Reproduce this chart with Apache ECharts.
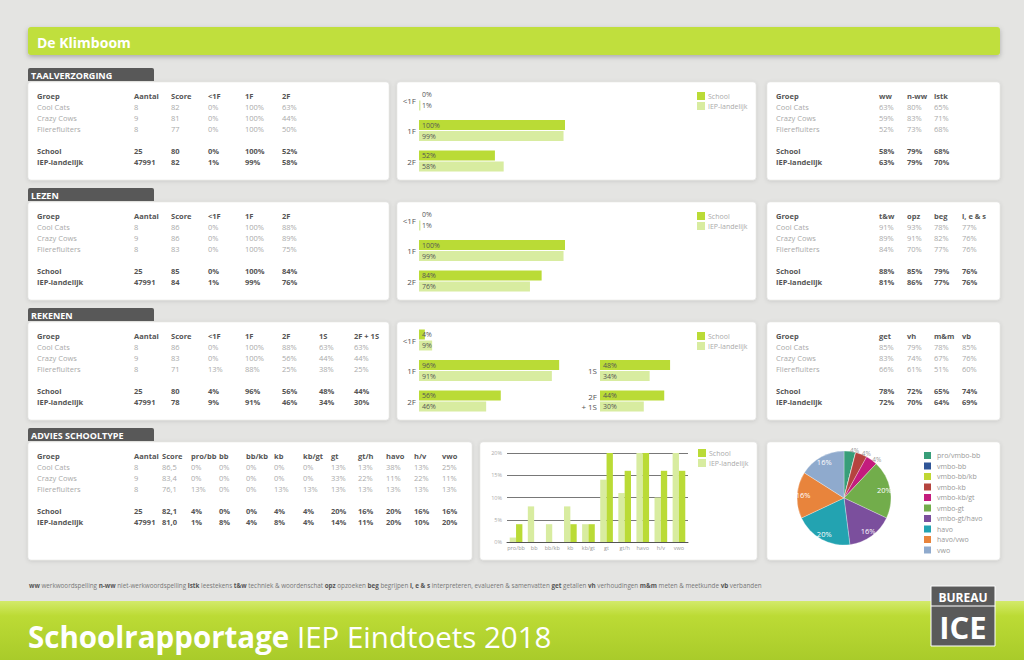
<!DOCTYPE html>
<html><head><meta charset="utf-8">
<script src="https://cdn.jsdelivr.net/npm/echarts@6/dist/echarts.min.js"></script>
<style>html,body{margin:0;padding:0;background:#e4e4e2}#c{width:1024px;height:660px}</style>
</head><body><div id="c"></div>
<script>
// ---------- DATA ----------
const schoolNaam = 'De Klimboom';
const groepen = ['Cool Cats', 'Crazy Cows', 'Flierefluiters'];
const totaalNamen = ['School', 'IEP-landelijk'];

// Taalverzorging
const taalNiveaus = ['<1F', '1F', '2F'];
const taalGroepRijen = [[8, 82, 0, 100, 63], [9, 81, 0, 100, 44], [8, 77, 0, 100, 50]]; // aantal, score, <1F, 1F, 2F
const taalSchoolAS = [25, 80];
const taalIEPAS = [47991, 82];
const taalSchool = [0, 100, 52];
const taalIEP = [1, 99, 58];
const taalSubKop = ['ww', 'n-ww', 'lstk'];
const taalSub = [[63, 80, 65], [59, 83, 71], [52, 73, 68], [58, 79, 68], [63, 79, 70]];

// Lezen
const lezenNiveaus = ['<1F', '1F', '2F'];
const lezenGroepRijen = [[8, 86, 0, 100, 88], [9, 86, 0, 100, 89], [8, 83, 0, 100, 75]];
const lezenSchoolAS = [25, 85];
const lezenIEPAS = [47991, 84];
const lezenSchool = [0, 100, 84];
const lezenIEP = [1, 99, 76];
const lezenSubKop = ['t&w', 'opz', 'beg', 'i, e & s'];
const lezenSub = [[91, 93, 78, 77], [89, 91, 82, 76], [84, 70, 77, 76], [88, 85, 79, 76], [81, 86, 77, 76]];

// Rekenen
const rekenNiveausA = ['<1F', '1F', '2F'];
const rekenNiveausB = ['1S', '2F\n+ 1S'];
const rekenKop = ['<1F', '1F', '2F', '1S', '2F + 1S'];
const rekenGroepRijen = [[8, 86, 0, 100, 88, 63, 63], [9, 83, 0, 100, 56, 44, 44], [8, 71, 13, 88, 25, 38, 25]];
const rekenSchoolAS = [25, 80];
const rekenIEPAS = [47991, 78];
const rekenSchool = [4, 96, 56, 48, 44];
const rekenIEP = [9, 91, 46, 34, 30];
const rekenSubKop = ['get', 'vh', 'm&m', 'vb'];
const rekenSub = [[85, 79, 78, 85], [83, 74, 67, 76], [66, 61, 51, 60], [78, 72, 65, 74], [72, 70, 64, 69]];

// Advies schooltype
const adviesTypen = ['pro/bb', 'bb', 'bb/kb', 'kb', 'kb/gt', 'gt', 'gt/h', 'havo', 'h/v', 'vwo'];
const adviesAantal = [8, 9, 8, 25, 47991];
const adviesScore = ['86,5', '83,4', '76,1', '82,1', '81,0'];
const adviesGroepRijen = [
  [0, 0, 0, 0, 0, 13, 13, 38, 13, 25],
  [0, 0, 0, 0, 0, 33, 22, 11, 22, 11],
  [13, 0, 0, 13, 13, 13, 13, 13, 13, 13]
];
const adviesSchool = [4, 0, 0, 4, 4, 20, 16, 20, 16, 16];
const adviesIEP = [1, 8, 4, 8, 4, 14, 11, 20, 10, 20];
const adviesTicks = [0, 5, 10, 15, 20];
const pieNamen = ['pro/vmbo-bb', 'vmbo-bb', 'vmbo-bb/kb', 'vmbo-kb', 'vmbo-kb/gt', 'vmbo-gt', 'vmbo-gt/havo', 'havo', 'havo/vwo', 'vwo'];

const afkortingen = [['ww', 'werkwoordspelling'], ['n-ww', 'niet-werkwoordspelling'], ['lstk', 'leestekens'],
  ['t&w', 'techniek & woordenschat'], ['opz', 'opzoeken'], ['beg', 'begrijpen'],
  ['i, e & s', 'interpreteren, evalueren & samenvatten'], ['get', 'getallen'], ['vh', 'verhoudingen'],
  ['m&m', 'meten & meetkunde'], ['vb', 'verbanden']];
const titelVet = 'Schoolrapportage';
const titelRest = 'IEP Eindtoets 2018';

// ---------- STYLE ----------
const FONT = '"Open Sans", "Liberation Sans", sans-serif';
const C_SCHOOL = '#badb36';
const C_IEP = '#d8eca0';
const pieKleuren = ['#389e79', '#2f5597', '#bfd733', '#b5443f', '#c31c7d', '#72ad4b', '#7b4f9d', '#23a3b1', '#e8843c', '#8faacd'];

const G = [];
function txt(x, y, s, font, fill, align) {
  G.push({type: 'text', x: x, y: y, z: 10, silent: true,
    style: {text: s, font: font, fill: fill, align: align || 'left', verticalAlign: 'middle'}});
}
function panel(x, y, w, h) {
  G.push({type: 'rect', z: -5, silent: true, shape: {x: x, y: y, width: w, height: h, r: 3},
    style: {fill: '#fff', stroke: '#e0e0de', lineWidth: 0.5, shadowBlur: 4, shadowColor: 'rgba(0,0,0,0.12)', shadowOffsetY: 1}});
}
function tab(y, label) {
  G.push({type: 'rect', z: -4, silent: true, shape: {x: 28, y: y, width: 126, height: 13, r: [2, 2, 0, 0]}, style: {fill: '#585858'}});
  txt(31, y + 7, label, 'bold 9px ' + FONT, '#fff');
}
const F_HEAD = 'bold 7.5px ' + FONT;
const F_ROW = '7.5px ' + FONT;
const ROW_DY = [25, 36, 47];
const TOT_DY = [69, 80];
function table(top, colX, head, groupCells, totCells) {
  head.forEach((h, i) => txt(colX[i], top + 14, h, F_HEAD, '#555'));
  groupCells.forEach((row, r) => row.forEach((c, i) => txt(colX[i], top + ROW_DY[r], String(c), F_ROW, '#aaa')));
  totCells.forEach((row, r) => row.forEach((c, i) => txt(colX[i], top + TOT_DY[r], String(c), F_HEAD, '#555')));
}
const pct = v => v + '%';

// background & header
G.push({type: 'rect', z: -10, silent: true, shape: {x: 0, y: 0, width: 1024, height: 660}, style: {fill: '#e4e4e2'}});
G.push({type: 'rect', z: -6, silent: true, shape: {x: 28, y: 27, width: 972, height: 28, r: 3},
  style: {fill: '#c0df3c', shadowBlur: 5, shadowColor: 'rgba(0,0,0,0.25)', shadowOffsetY: 2}});
txt(37, 42, schoolNaam, 'bold 14px ' + FONT, '#fff');

const leftCols = [37, 134, 171, 208, 245, 282, 319, 354];
const rightCols = [776, 879, 907, 934, 962];
const sections = [
  {y: 68, name: 'TAALVERZORGING', kop: taalNiveaus, rows: taalGroepRijen, sAS: taalSchoolAS, iAS: taalIEPAS, s: taalSchool, i: taalIEP, subKop: taalSubKop, sub: taalSub},
  {y: 188, name: 'LEZEN', kop: lezenNiveaus, rows: lezenGroepRijen, sAS: lezenSchoolAS, iAS: lezenIEPAS, s: lezenSchool, i: lezenIEP, subKop: lezenSubKop, sub: lezenSub},
  {y: 308, name: 'REKENEN', kop: rekenKop, rows: rekenGroepRijen, sAS: rekenSchoolAS, iAS: rekenIEPAS, s: rekenSchool, i: rekenIEP, subKop: rekenSubKop, sub: rekenSub}
];
sections.forEach(sec => {
  tab(sec.y, sec.name);
  const top = sec.y + 14;
  panel(28, top, 361, 98);
  panel(397, top, 359, 98);
  panel(767, top, 233, 98);
  const head = ['Groep', 'Aantal', 'Score'].concat(sec.kop);
  const gcells = sec.rows.map((r, k) => [groepen[k], r[0], r[1]].concat(r.slice(2).map(pct)));
  const tcells = [
    [totaalNamen[0], sec.sAS[0], sec.sAS[1]].concat(sec.s.map(pct)),
    [totaalNamen[1], sec.iAS[0], sec.iAS[1]].concat(sec.i.map(pct))
  ];
  table(top, leftCols, head, gcells, tcells);
  const rhead = ['Groep'].concat(sec.subKop);
  const rg = sec.sub.slice(0, 3).map((r, k) => [groepen[k]].concat(r.map(pct)));
  const rt = sec.sub.slice(3).map((r, k) => [totaalNamen[k]].concat(r.map(pct)));
  table(top, rightCols, rhead, rg, rt);
});

// advies
tab(428, 'ADVIES SCHOOLTYPE');
panel(28, 442, 444, 118);
panel(480, 442, 277, 118);
panel(767, 442, 233, 118);
const adviesCols = [37, 134, 162, 191, 219, 246, 274, 303, 331, 358, 386, 414, 442];
table(442, adviesCols, ['Groep', 'Aantal', 'Score'].concat(adviesTypen),
  adviesGroepRijen.map((r, k) => [groepen[k], adviesAantal[k], adviesScore[k]].concat(r.map(pct))),
  [[totaalNamen[0], adviesAantal[3], adviesScore[3]].concat(adviesSchool.map(pct)),
   [totaalNamen[1], adviesAantal[4], adviesScore[4]].concat(adviesIEP.map(pct))]);

// footer abbreviations
G.push({type: 'text', x: 29, y: 585, z: 10, silent: true, style: {
  text: afkortingen.map(a => '{b|' + a[0] + ' }{n|' + a[1] + ' }').join(''),
  verticalAlign: 'middle',
  rich: {b: {font: 'bold 6.3px ' + FONT, fill: '#555'}, n: {font: '6.3px ' + FONT, fill: '#777'}}
}});
// bottom band
G.push({type: 'rect', z: -6, silent: true, shape: {x: 0, y: 601, width: 1024, height: 59},
  style: {fill: new echarts.graphic.LinearGradient(0, 0, 0, 1, [
    {offset: 0, color: '#d3ea6a'}, {offset: 0.25, color: '#bcdb35'}, {offset: 1, color: '#a9cb2a'}])}});
G.push({type: 'text', x: 28, y: 636, z: 10, silent: true, style: {
  text: '{b|' + titelVet + ' }{n|' + titelRest + '}', verticalAlign: 'middle',
  rich: {b: {font: 'bold 29.5px ' + FONT, fill: '#fff'}, n: {font: '29.5px ' + FONT, fill: '#fff'}}
}});
G.push({type: 'rect', z: -4, silent: true, shape: {x: 931, y: 586, width: 64, height: 60}, style: {fill: '#5a5a5a', stroke: '#fff', lineWidth: 1}});
G.push({type: 'line', z: -3, silent: true, shape: {x1: 931, y1: 606, x2: 995, y2: 606}, style: {stroke: '#fff', lineWidth: 1}});
txt(963, 597, 'BUREAU', 'bold 12px ' + FONT, '#fff', 'center');
txt(963, 627, 'ICE', 'bold 31px ' + FONT, '#fff', 'center');

// ---------- CHART ----------
const hbarGridTops = [84.75, 204.75, 324.75];
const grids = [], xAxes = [], yAxes = [], series = [], legends = [];
function hbarAxes(gi, left, top, width, height, cats) {
  grids.push({left: left, top: top, width: width, height: height});
  xAxes.push({type: 'value', gridIndex: gi, min: 0, max: 100, show: false});
  yAxes.push({type: 'category', gridIndex: gi, data: cats, inverse: true,
    axisLine: {show: false}, axisTick: {show: false},
    axisLabel: {margin: 3, color: '#555', fontSize: 8, fontFamily: FONT, align: 'right', lineHeight: 10}});
}
function hbarSeries(ai, s, i) {
  const lab = {show: true, position: 'insideLeft', distance: 3, formatter: '{c}%', color: '#555', fontSize: 7, fontFamily: FONT};
  series.push({type: 'bar', name: 'School', xAxisIndex: ai, yAxisIndex: ai, data: s, barWidth: 10, barGap: '10%',
    itemStyle: {color: C_SCHOOL}, label: lab, silent: true});
  series.push({type: 'bar', name: 'IEP-landelijk', xAxisIndex: ai, yAxisIndex: ai, data: i, barWidth: 10, barGap: '10%',
    itemStyle: {color: C_IEP}, label: lab, silent: true});
}
const legBase = {orient: 'vertical', itemWidth: 8, itemHeight: 8, itemGap: 2, icon: 'rect', selectedMode: false,
  textStyle: {fontSize: 7, lineHeight: 8, color: '#aaa', fontFamily: FONT, padding: [0, 0, 0, -2]}, padding: 0};

hbarAxes(0, 419, hbarGridTops[0], 146, 91.5, taalNiveaus);
hbarSeries(0, taalSchool, taalIEP);
hbarAxes(1, 419, hbarGridTops[1], 146, 91.5, lezenNiveaus);
hbarSeries(1, lezenSchool, lezenIEP);
hbarAxes(2, 419, hbarGridTops[2], 146, 91.5, rekenNiveausA);
hbarSeries(2, rekenSchool.slice(0, 3), rekenIEP.slice(0, 3));
hbarAxes(3, 600, hbarGridTops[2] + 30.5, 146, 61, rekenNiveausB);
hbarSeries(3, rekenSchool.slice(3), rekenIEP.slice(3));
[92, 212, 332].forEach(t => legends.push(Object.assign({}, legBase, {left: 697, top: t, data: ['School', 'IEP-landelijk']})));

// advies column chart
grids.push({left: 507, top: 453, width: 181, height: 89});
xAxes.push({type: 'category', gridIndex: 4, data: adviesTypen,
  axisLine: {lineStyle: {color: '#555'}}, axisTick: {show: false},
  axisLabel: {interval: 0, fontSize: 5.5, color: '#999', margin: 3, fontFamily: FONT}});
yAxes.push({type: 'value', gridIndex: 4, min: adviesTicks[0], max: adviesTicks[adviesTicks.length - 1], interval: adviesTicks[1] - adviesTicks[0],
  axisLabel: {formatter: '{value}%', fontSize: 5.5, color: '#aaa', margin: 5, fontFamily: FONT},
  splitLine: {lineStyle: {color: '#555', width: 0.8}}, axisLine: {show: false}, axisTick: {show: false}});
series.push({type: 'bar', name: 'IEP-landelijk', xAxisIndex: 4, yAxisIndex: 4, data: adviesIEP, barGap: 0, barCategoryGap: '30%',
  itemStyle: {color: C_IEP}, silent: true});
series.push({type: 'bar', name: 'School', xAxisIndex: 4, yAxisIndex: 4, data: adviesSchool, barGap: 0, barCategoryGap: '30%',
  itemStyle: {color: C_SCHOOL}, silent: true});
legends.push(Object.assign({}, legBase, {left: 698, top: 449, data: ['School', 'IEP-landelijk']}));

// pie
series.push({type: 'pie', name: 'advies', center: [844, 498], radius: 47, startAngle: 90, clockwise: true,
  avoidLabelOverlap: false, silent: true, color: pieKleuren,
  itemStyle: {borderColor: '#fff', borderWidth: 0.3},
  data: pieNamen.map((n, k) => ({name: n, value: adviesSchool[k],
    label: {show: adviesSchool[k] > 0 && adviesSchool[k] < 10}})),
  label: {position: 'outside', formatter: '{c}%', color: '#999', fontSize: 6.5, fontFamily: FONT, distanceToLabelLine: 0},
  labelLine: {show: false, length: 1, length2: 0}});
series.push({type: 'pie', name: 'adviesLabels', center: [844, 498], radius: 76, startAngle: 90, clockwise: true,
  avoidLabelOverlap: false, silent: true, itemStyle: {color: 'rgba(0,0,0,0)'},
  data: pieNamen.map((n, k) => ({name: n, value: adviesSchool[k], label: {show: adviesSchool[k] >= 10}})),
  label: {position: 'inside', formatter: '{c}%', color: '#fff', fontSize: 7.5, fontFamily: FONT},
  labelLine: {show: false}});
legends.push(Object.assign({}, legBase, {left: 922, top: 450, itemWidth: 9, itemHeight: 9, itemGap: -0.5, data: pieNamen,
  textStyle: {fontSize: 7, lineHeight: 9, color: '#999', fontFamily: FONT}}));

const chart = echarts.init(document.getElementById('c'), null, {renderer: 'svg'});
chart.setOption({
  animation: false,
  backgroundColor: '#e4e4e2',
  graphic: {elements: G},
  grid: grids, xAxis: xAxes, yAxis: yAxes, legend: legends, series: series
});
</script></body></html>
